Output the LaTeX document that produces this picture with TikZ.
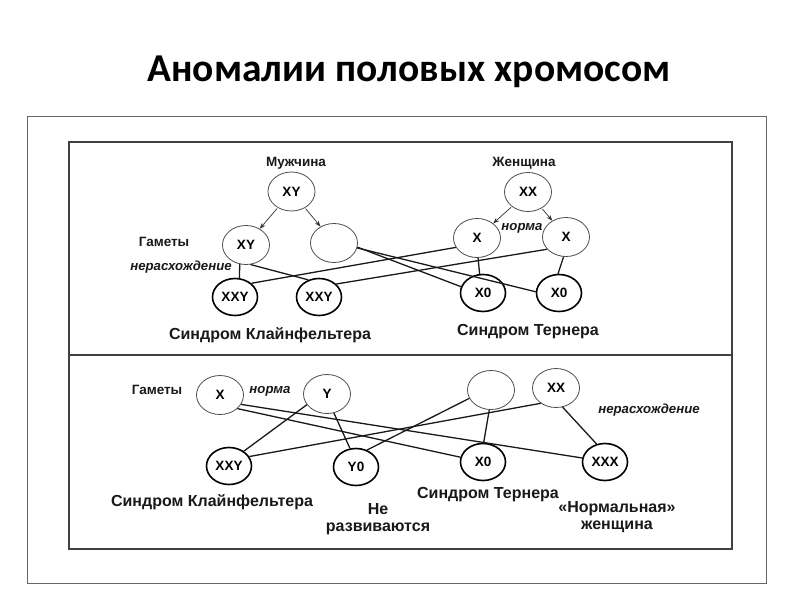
\documentclass[tikz,border=0pt]{standalone}
\usepackage{fontspec}
\setmainfont{Liberation Sans}
\newfontfamily\titlefont{Carlito}
\usetikzlibrary{shapes.geometric,arrows.meta}
\newcommand\mylab{\fontsize{13.5}{15}\selectfont\bfseries}
\newcommand\mycirc{\fontsize{13.5}{15}\selectfont\bfseries}
\newcommand\mybig{\fontsize{16}{16.5}\selectfont\bfseries}
\newcommand\myital{\fontsize{13.2}{15}\selectfont\bfseries\itshape}
\tikzset{
  gam/.style={ellipse, draw=black!70, line width=0.8pt, minimum width=47, minimum height=39, inner sep=0pt, font=\mycirc},
  off/.style={ellipse, draw=black, line width=1.6pt, minimum width=45, minimum height=37, inner sep=0pt, font=\mycirc},
  txt/.style={inner sep=0pt, font=\mylab, text=black!90},
  bigtxt/.style={inner sep=0pt, font=\mybig, align=center, text=black!90},
  itxt/.style={inner sep=0pt, font=\myital, text=black!90},
  conn/.style={line width=1.3pt, black!90},
  arr/.style={-{Stealth[length=6pt,width=4.5pt]}, line width=0.7pt, black!80, shorten <=1pt},
}
\begin{document}
\begin{tikzpicture}[x=1pt,y=-1pt]
\useasboundingbox (0,0) rectangle (800,600);
\fill[white] (0,0) rectangle (800,600);
% title
\node[font=\titlefont\bfseries\fontsize{39.5}{44}\selectfont] (title) at (409,72) {Аномалии половых хромосом};
% frames
\draw[black!60, line width=0.8pt] (27,116) rectangle (766,583);
\draw[black!75, line width=1.2pt] (69,142) rectangle (732,549);
\draw[black!75, line width=1.2pt] (69,355) -- (732,355);

% ---------- top section ----------
\node[txt] (mlab) at (296,163) {Мужчина};
\node[gam] (XYp) at (291.5,191.5) {XY};
\node[gam] (XYg) at (246,245) {XY};
\node[gam] (Eg1) at (334,243) {};
\node[off] (XXY1) at (235,297) {XXY};
\node[off] (XXY2) at (319,297) {XXY};
\node[txt] (gam1) at (164,242) {Гаметы};
\node[itxt] (ner1) at (181,267) {нерасхождение};
\node[bigtxt] (kl1) at (270,335) {Синдром Клайнфельтера};

\node[txt] (wlab) at (524,163) {Женщина};
\node[gam] (XXp) at (528,192) {XX};
\node[gam] (X1) at (477,238) {X};
\node[gam] (X2) at (566,237) {X};
\node[itxt] (norm1) at (522,228) {норма};
\node[off] (X01) at (483,293) {X0};
\node[off] (X02) at (559,293) {X0};
\node[bigtxt] (ter1) at (528,332) {Синдром Тернера};

\draw[arr] (XYp) -- (XYg);
\draw[arr] (XYp) -- (Eg1);
\draw[arr] (XXp) -- (X1);
\draw[arr] (XXp) -- (X2);

\draw[conn] (XYg.-108) -- (XXY1.77);
\draw[conn] (XYg.-77) -- (XXY2.122);
\draw[conn] (Eg1.-10) -- (X01.164);
\draw[conn] (Eg1.-12) -- (X02.177);
\draw[conn] (X1.-156) -- (XXY1.40);
\draw[conn] (X2.-147) -- (XXY2.37);
\draw[conn] (X1.-87) -- (X01.100);
\draw[conn] (X2.-97) -- (X02.93);

% ---------- bottom section ----------
\node[txt] (gam2) at (157,390) {Гаметы};
\node[gam] (Xb) at (220,395) {X};
\node[itxt] (norm2) at (270,391) {норма};
\node[gam] (Yb) at (327,394) {Y};
\node[gam] (Eb) at (491,390) {};
\node[gam] (XXb) at (556,388) {XX};
\node[itxt] (ner2) at (649,410) {нерасхождение};
\node[off] (XXYb) at (229,466) {XXY};
\node[off] (Y0) at (356,467) {Y0};
\node[off] (X0b) at (483,462) {X0};
\node[off] (XXX) at (605,462) {XXX};
\node[bigtxt] (kl2) at (212,502) {Синдром Клайнфельтера};
\node[bigtxt] (ne) at (378,519) {Не\\развиваются};
\node[bigtxt] (ter2) at (488,495) {Синдром Тернера};
\node[bigtxt] (nw) at (617,517) {«Нормальная»\\женщина};

\draw[conn] (Xb.-24) -- (XXX.170);
\draw[conn] (Xb.-38) -- (X0b.168);
\draw[conn] (Yb.-152) -- (XXYb.45);
\draw[conn] (Yb.-70) -- (Y0.108);
\draw[conn] (Eb.-159) -- (Y0.57);
\draw[conn] (Eb.-95) -- (X0b.88);
\draw[conn] (XXb.-135) -- (XXYb.25);
\draw[conn] (XXb.-71) -- (XXX.115);
\end{tikzpicture}
\end{document}
